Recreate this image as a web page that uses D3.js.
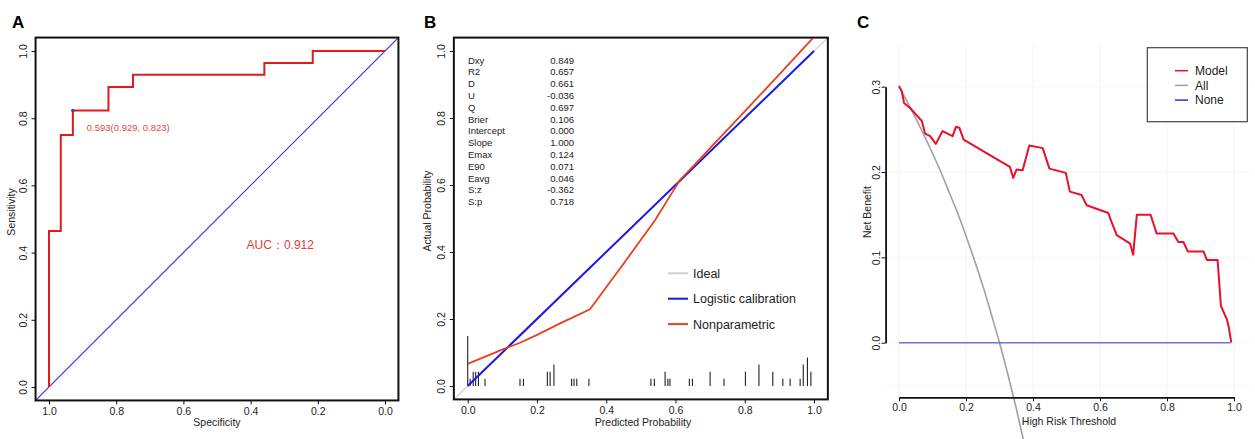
<!DOCTYPE html>
<html>
<head>
<meta charset="utf-8">
<script src="https://cdn.jsdelivr.net/npm/d3@7"></script>
<style>
  body { margin: 0; background: #fff; }
  svg { font-family: Arial, "Liberation Sans", sans-serif; display: block; }
  .tick line { stroke: #111; }
  .tick text { fill: #222; }
</style>
</head>
<body>
<script>
//////////////// Data ////////////////////
// A: ROC curve (specificity, sensitivity)
var rocSpecificity = [1.0, 1.0, 0.965, 0.929, 0.823, 0.750, 0.359, 0.215, 0.0];
var rocSensitivity = [0.0, 0.464, 0.750, 0.823, 0.893, 0.929, 0.964, 1.0, 1.0];
var bestPoint = {threshold: "0.593", spec: 0.929, sens: 0.823};
var aucText = "AUC\uFF1A0.912";
var ticksA = [0, 0.2, 0.4, 0.6, 0.8, 1.0];

// B: calibration
var statNames = ["Dxy", "R2", "D", "U", "Q", "Brier", "Intercept", "Slope", "Emax", "E90", "Eavg", "S:z", "S:p"];
var statValues = ["0.849", "0.657", "0.661", "-0.036", "0.697", "0.106", "0.000", "1.000", "0.124", "0.071", "0.046", "-0.362", "0.718"];
var logisticPred = [0.0, 1.0];
var logisticObs = [0.0, 1.0];
var nonparPred = [0.0, 0.103, 0.151, 0.199, 0.267, 0.353, 0.45, 0.541, 0.58, 0.613, 0.65, 0.70, 0.80, 0.90, 0.996];
var nonparObs = [0.066, 0.110, 0.129, 0.152, 0.187, 0.229, 0.365, 0.495, 0.56, 0.615, 0.655, 0.71, 0.82, 0.93, 1.038];
var rugPred = [0.0, 0.007, 0.016, 0.023, 0.031, 0.050, 0.151, 0.161, 0.230, 0.238, 0.249, 0.300, 0.307, 0.315, 0.350,
  0.529, 0.539, 0.570, 0.578, 0.584, 0.640, 0.649, 0.700, 0.740, 0.802, 0.841, 0.881, 0.910, 0.931, 0.960, 0.969, 0.981, 0.991];
var rugCount = [7, 1, 2, 2, 2, 1, 1, 1, 2, 2, 3, 1, 1, 1, 1,
  1, 1, 2, 1, 1, 1, 1, 2, 1, 2, 3, 2, 1, 1, 1, 3, 4, 2];
var legendB = ["Ideal", "Logistic calibration", "Nonparametric"];

// C: decision curve
var dcaThreshold = [0.0, 0.008, 0.015, 0.033, 0.068, 0.078, 0.093, 0.110, 0.130, 0.160, 0.170, 0.180, 0.193, 0.331, 0.341,
  0.351, 0.369, 0.389, 0.429, 0.449, 0.498, 0.510, 0.545, 0.560, 0.625, 0.632, 0.650, 0.690, 0.699, 0.710, 0.751, 0.769,
  0.819, 0.834, 0.849, 0.862, 0.909, 0.919, 0.951, 0.961, 0.979, 0.984, 0.992];
var dcaModel = [0.301, 0.295, 0.281, 0.275, 0.260, 0.245, 0.242, 0.233, 0.248, 0.242, 0.253, 0.252, 0.238, 0.206, 0.193,
  0.203, 0.202, 0.231, 0.228, 0.204, 0.199, 0.177, 0.173, 0.161, 0.152, 0.144, 0.126, 0.116, 0.103, 0.150, 0.150, 0.128,
  0.128, 0.118, 0.118, 0.107, 0.107, 0.097, 0.097, 0.043, 0.027, 0.019, 0.0];
var allThreshold = [0.0, 0.025, 0.05, 0.075, 0.1, 0.125, 0.15, 0.175, 0.2, 0.225, 0.25, 0.275, 0.3, 0.325, 0.35, 0.375];
var allBenefit = [0.300, 0.282, 0.263, 0.243, 0.222, 0.200, 0.176, 0.152, 0.125, 0.097, 0.067, 0.034, 0.0, -0.037, -0.077, -0.120];
var noneThreshold = [0.0, 0.99];
var noneBenefit = [0.0, 0.0];
var legendC = ["Model", "All", "None"];
var ticksCx = [0, 0.2, 0.4, 0.6, 0.8, 1.0];
var ticksCy = [0, 0.1, 0.2, 0.3];

//////////////// SVG ////////////////////
var svg = d3.select("body").append("svg")
  .attr("width", 1255)
  .attr("height", 439);

var fmt = d3.format(".1f");

// rotate y tick labels like base R
function rotateY(sel, off) {
  sel.selectAll(".tick text")
    .attr("x", 0).attr("y", 0).attr("dy", 0)
    .style("text-anchor", "middle")
    .attr("transform", "translate(" + off + ",0) rotate(-90)");
}

function panelLetter(x, t) {
  svg.append("text").attr("x", x).attr("y", 27.5)
    .style("font-size", "17px").style("font-weight", "bold").text(t);
}

///////////////////////// Panel A /////////////////////////
var xA = d3.scaleLinear().domain([1, 0]).range([49, 385]);
var yA = d3.scaleLinear().domain([0, 1]).range([387, 51]);
var gA = svg.append("g");

gA.append("line")
  .attr("x1", xA(1.04)).attr("y1", yA(-0.04))
  .attr("x2", xA(-0.04)).attr("y2", yA(1.04))
  .attr("stroke", "#3a3ad0").attr("stroke-width", 1.2);

var rocPts = rocSpecificity.map(function(d, i) { return [d, rocSensitivity[i]]; });
gA.append("path")
  .datum(rocPts)
  .attr("fill", "none").attr("stroke", "#e3191c").attr("stroke-width", 2)
  .attr("d", d3.line().curve(d3.curveStepAfter)
    .x(function(d) { return xA(d[0]); })
    .y(function(d) { return yA(d[1]); }));

gA.append("circle")
  .attr("cx", xA(bestPoint.spec)).attr("cy", yA(bestPoint.sens)).attr("r", 1.8)
  .attr("fill", "#2f3fe0");

gA.append("text")
  .attr("x", xA(bestPoint.spec) + 14).attr("y", yA(bestPoint.sens) + 21)
  .style("font-size", "9.5px").attr("fill", "#e04a44")
  .text(bestPoint.threshold + "(" + bestPoint.spec.toFixed(3) + ", " + bestPoint.sens.toFixed(3) + ")");

gA.append("text")
  .attr("x", xA(0.412)).attr("y", yA(0.41))
  .style("font-size", "12px").attr("fill", "#e0403c")
  .text(aucText);

gA.append("rect")
  .attr("x", xA(1.04)).attr("y", yA(1.04))
  .attr("width", xA(-0.04) - xA(1.04)).attr("height", yA(-0.04) - yA(1.04))
  .attr("fill", "none").attr("stroke", "#111").attr("stroke-width", 2);

gA.append("g")
  .attr("transform", "translate(0," + yA(-0.04) + ")")
  .style("font-size", "10.5px").style("font-family", "inherit")
  .call(d3.axisBottom(xA).tickValues(ticksA).tickFormat(fmt).tickSize(4).tickPadding(3))
  .call(function(g) { g.select(".domain").remove(); });

gA.append("g")
  .attr("transform", "translate(" + xA(1.04) + ",0)")
  .style("font-size", "10.5px").style("font-family", "inherit")
  .call(d3.axisLeft(yA).tickValues(ticksA).tickFormat(fmt).tickSize(4))
  .call(function(g) { g.select(".domain").remove(); rotateY(g, -9); });

gA.append("text")
  .attr("x", (xA(1.04) + xA(-0.04)) / 2).attr("y", 426)
  .style("font-size", "10.5px").style("text-anchor", "middle").attr("fill", "#222")
  .text("Specificity");
gA.append("text")
  .attr("transform", "translate(15,212) rotate(-90)")
  .style("font-size", "10.5px").style("text-anchor", "middle").attr("fill", "#222")
  .text("Sensitivity");

panelLetter(12, "A");

///////////////////////// Panel B /////////////////////////
var xB = d3.scaleLinear().domain([0, 1]).range([467.7, 814]);
var yB = d3.scaleLinear().domain([0, 1]).range([386, 51]);
var gB = svg.append("g");

// ideal
gB.append("line")
  .attr("x1", xB(-0.04)).attr("y1", yB(-0.04))
  .attr("x2", xB(1.04)).attr("y2", yB(1.04))
  .attr("stroke", "#cfcfcf").attr("stroke-width", 1.3);

// rug
gB.selectAll("line.rug")
  .data(rugPred)
  .enter().append("line")
  .attr("class", "rug")
  .attr("x1", function(d) { return xB(d); })
  .attr("x2", function(d) { return xB(d); })
  .attr("y1", yB(0))
  .attr("y2", function(d, i) { return yB(rugCount[i] * 0.0213); })
  .attr("stroke", "#222").attr("stroke-width", 1.1);

var lineB = d3.line()
  .x(function(d) { return xB(d[0]); })
  .y(function(d) { return yB(d[1]); });

gB.append("path")
  .datum(logisticPred.map(function(d, i) { return [d, logisticObs[i]]; }))
  .attr("fill", "none").attr("stroke", "#1a1ae6").attr("stroke-width", 2)
  .attr("d", lineB);

gB.append("path")
  .datum(nonparPred.map(function(d, i) { return [d, nonparObs[i]]; }))
  .attr("fill", "none").attr("stroke", "#e8401c").attr("stroke-width", 1.8)
  .attr("d", lineB);

// stats
var stats = gB.append("g").style("font-size", "9.5px").attr("fill", "#222");
stats.selectAll("text.sn")
  .data(statNames).enter().append("text")
  .attr("class", "sn")
  .attr("x", 468).attr("y", function(d, i) { return 63.5 + i * 11.8; })
  .text(function(d) { return d; });
stats.selectAll("text.sv")
  .data(statValues).enter().append("text")
  .attr("class", "sv")
  .attr("x", 574).attr("y", function(d, i) { return 63.5 + i * 11.8; })
  .style("text-anchor", "end")
  .text(function(d) { return d; });

// legend
var legColB = ["#cfcfcf", "#1a1ae6", "#e8401c"];
var legB = gB.append("g").selectAll("g").data(legendB).enter().append("g")
  .attr("transform", function(d, i) { return "translate(668," + (273.3 + i * 25.4) + ")"; });
legB.append("line").attr("x1", 0).attr("x2", 20)
  .attr("stroke", function(d, i) { return legColB[i]; }).attr("stroke-width", 2);
legB.append("text").attr("x", 25).attr("dy", "0.36em")
  .style("font-size", "12.5px").attr("fill", "#222")
  .text(function(d) { return d; });

gB.append("rect")
  .attr("x", xB(-0.04)).attr("y", yB(1.04))
  .attr("width", xB(1.04) - xB(-0.04)).attr("height", yB(-0.04) - yB(1.04))
  .attr("fill", "none").attr("stroke", "#111").attr("stroke-width", 2);

gB.append("g")
  .attr("transform", "translate(0," + yB(-0.04) + ")")
  .style("font-size", "10.5px").style("font-family", "inherit")
  .call(d3.axisBottom(xB).tickValues(ticksA).tickFormat(fmt).tickSize(4).tickPadding(3))
  .call(function(g) { g.select(".domain").remove(); });

gB.append("g")
  .attr("transform", "translate(" + xB(-0.04) + ",0)")
  .style("font-size", "10.5px").style("font-family", "inherit")
  .call(d3.axisLeft(yB).tickValues(ticksA).tickFormat(fmt).tickSize(4))
  .call(function(g) { g.select(".domain").remove(); rotateY(g, -9); });

gB.append("text")
  .attr("x", 643).attr("y", 426)
  .style("font-size", "10.5px").style("text-anchor", "middle").attr("fill", "#222")
  .text("Predicted Probability");
gB.append("text")
  .attr("transform", "translate(431,211) rotate(-90)")
  .style("font-size", "10.5px").style("text-anchor", "middle").attr("fill", "#222")
  .text("Actual Probability");

panelLetter(424, "B");

///////////////////////// Panel C /////////////////////////
var xC = d3.scaleLinear().domain([0, 1]).range([899, 1234]);
var yC = d3.scaleLinear().domain([0, 0.3]).range([342.7, 86.7]);
var gC = svg.append("g");

// faint grid
gC.selectAll("line.gx").data(ticksCx).enter().append("line")
  .attr("x1", function(d) { return xC(d); }).attr("x2", function(d) { return xC(d); })
  .attr("y1", 46).attr("y2", yC(-0.064))
  .attr("stroke", "#f3f3f3");
gC.selectAll("line.gy").data(ticksCy.concat([-0.05])).enter().append("line")
  .attr("x1", xC(-0.04)).attr("x2", 1250)
  .attr("y1", function(d) { return yC(d); }).attr("y2", function(d) { return yC(d); })
  .attr("stroke", "#f5f5f5");

var lineC = d3.line()
  .x(function(d) { return xC(d[0]); })
  .y(function(d) { return yC(d[1]); });

gC.append("path")
  .datum(allThreshold.map(function(d, i) { return [d, allBenefit[i]]; }))
  .attr("fill", "none").attr("stroke", "#a0a0a0").attr("stroke-width", 1.6)
  .attr("d", lineC.curve(d3.curveMonotoneX));
lineC.curve(d3.curveLinear);

gC.append("path")
  .datum(noneThreshold.map(function(d, i) { return [d, noneBenefit[i]]; }))
  .attr("fill", "none").attr("stroke", "#7070e0").attr("stroke-width", 1.4)
  .attr("d", lineC);

gC.append("path")
  .datum(dcaThreshold.map(function(d, i) { return [d, dcaModel[i]]; }))
  .attr("fill", "none").attr("stroke", "#e8102a").attr("stroke-width", 2)
  .attr("stroke-linejoin", "round")
  .attr("d", lineC);

gC.append("g")
  .attr("transform", "translate(0," + yC(-0.064) + ")")
  .style("font-size", "10.5px").style("font-family", "inherit")
  .call(d3.axisBottom(xC).tickValues(ticksCx).tickFormat(fmt).tickSize(4).tickSizeOuter(0).tickPadding(2))
  .call(function(g) { g.select(".domain").attr("stroke", "#111").attr("stroke-width", 1.8); });

gC.append("g")
  .attr("transform", "translate(" + xC(-0.04) + ",0)")
  .style("font-size", "10.5px").style("font-family", "inherit")
  .call(d3.axisLeft(yC).tickValues(ticksCy).tickFormat(fmt).tickSize(4).tickSizeOuter(0))
  .call(function(g) {
    g.select(".domain").attr("stroke", "#111").attr("stroke-width", 1.8);
    rotateY(g, -6);
  });

gC.append("text")
  .attr("x", 1069).attr("y", 425)
  .style("font-size", "10.5px").style("text-anchor", "middle").attr("fill", "#222")
  .text("High Risk Threshold");
gC.append("text")
  .attr("transform", "translate(871,212) rotate(-90)")
  .style("font-size", "10.5px").style("text-anchor", "middle").attr("fill", "#222")
  .text("Net Benefit");

// legend
gC.append("rect")
  .attr("x", 1147.3).attr("y", 47.7).attr("width", 100).attr("height", 74)
  .attr("fill", "#fff").attr("stroke", "#444").attr("stroke-width", 1.2);
var legColC = ["#e8102a", "#a0a0a0", "#3030c8"];
var legC = gC.append("g").selectAll("g").data(legendC).enter().append("g")
  .attr("transform", function(d, i) { return "translate(1175," + (70.7 + i * 14.7) + ")"; });
legC.append("line").attr("x1", 0).attr("x2", 13)
  .attr("stroke", function(d, i) { return legColC[i]; }).attr("stroke-width", 1.5);
legC.append("text").attr("x", 20).attr("dy", "0.36em")
  .style("font-size", "12px").attr("fill", "#222")
  .text(function(d) { return d; });

panelLetter(857, "C");
</script>
</body>
</html>
